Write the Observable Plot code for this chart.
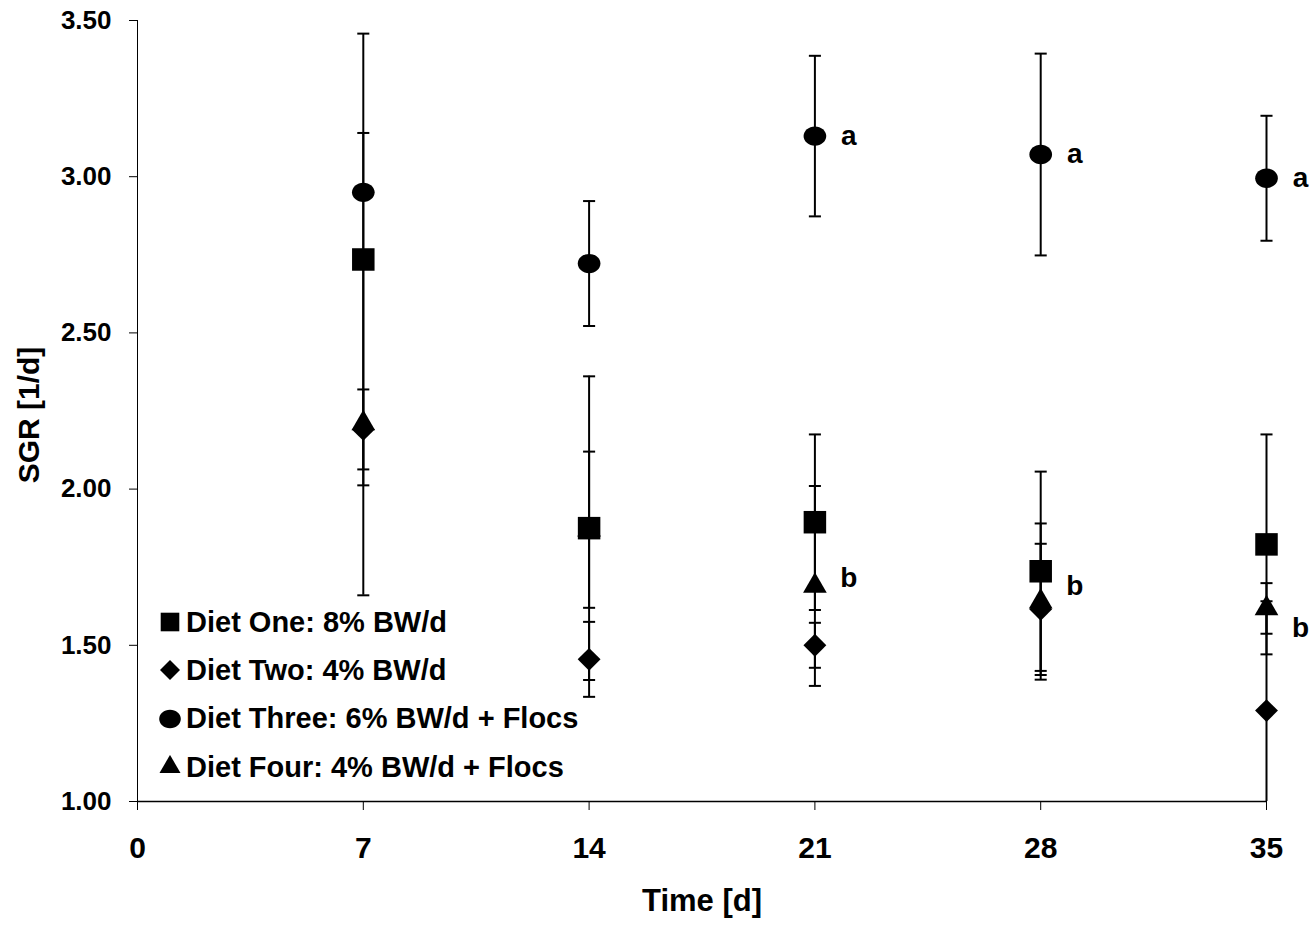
<!DOCTYPE html>
<html>
<head>
<meta charset="utf-8">
<script src="https://cdn.jsdelivr.net/npm/d3@7"></script>
<script src="https://cdn.jsdelivr.net/npm/@observablehq/plot@0.6"></script>
<style>
  html, body { margin: 0; padding: 0; background: white; }
  #wrap { position: relative; width: 1310px; height: 925px; font-family: "Liberation Sans", Arial, sans-serif; font-weight: bold; }
  #legend { position: absolute; left: 158px; top: 598px; }
  .row { display: flex; align-items: center; height: 48.3px; font-size: 29px; white-space: nowrap; }
  .row svg { width: 24px; height: 24px; margin-right: 4px; }
</style>
</head>
<body>
<div id="wrap"></div>
<script>
// ---- data ----
const days = [7, 14, 21, 28, 35];
const seriesNames = ["Diet One: 8% BW/d", "Diet Two: 4% BW/d", "Diet Three: 6% BW/d + Flocs", "Diet Four: 4% BW/d + Flocs"];
const dietOne = [2.735, 1.875, 1.894, 1.737, 1.823];
const dietOneErr = [0.723, 0.486, 0.281, 0.319, 0.352];
const dietTwo = [2.191, 1.455, 1.500, 1.615, 1.291];
const dietTwoErr = [0.128, 0.120, 0.072, 0.210, 0.350];
const dietThree = [2.950, 2.722, 3.130, 3.071, 2.995];
const dietThreeErr = [0.190, 0.200, 0.257, 0.323, 0.200];
const dietFour = [2.210, 1.870, 1.690, 1.640, 1.618];
const dietFourErr = [0.550, 0.250, 0.320, 0.250, 0.081];
const letterText = ["a", "a", "a", "b", "b", "b"];
const letterDay = [21, 28, 35, 21, 28, 35];
const letterValue = [3.130, 3.071, 2.995, 1.714, 1.691, 1.554];
const xTicks = [0, 7, 14, 21, 28, 35];
const yTicks = [1.0, 1.5, 2.0, 2.5, 3.0, 3.5];
const yMin = 1, yMax = 3.5;

// ---- symbols ----
const ellipse = {draw(ctx, size) {
  const r = Math.sqrt(size / Math.PI), rx = r * 1.08, ry = r * 0.92, k = 0.5523;
  ctx.moveTo(rx, 0);
  ctx.bezierCurveTo(rx, ry * k, rx * k, ry, 0, ry);
  ctx.bezierCurveTo(-rx * k, ry, -rx, ry * k, -rx, 0);
  ctx.bezierCurveTo(-rx, -ry * k, -rx * k, -ry, 0, -ry);
  ctx.bezierCurveTo(rx * k, -ry, rx, -ry * k, rx, 0);
  ctx.closePath();
}};
const cap = {draw(ctx, size) {
  const w = Math.sqrt(size);
  ctx.moveTo(-w / 2, 0); ctx.lineTo(w / 2, 0);
}};
const symbols = ["square", "diamond2", ellipse, "triangle"];
const radii = [12.7, 10.3, 10.5, 8.8];

const vals = [dietOne, dietTwo, dietThree, dietFour];
const errs = [dietOneErr, dietTwoErr, dietThreeErr, dietFourErr];
const rows = vals.flatMap((v, s) => days.map((d, i) => ({
  series: s, day: d, value: v[i], lo: v[i] - errs[s][i], hi: v[i] + errs[s][i]
})));
// error bars are cut at the axis range (as in the original chart)
const barRows = rows.map(r => ({day: r.day, lo: Math.max(yMin, r.lo), hi: Math.min(yMax, r.hi)}));
const capRows = rows.flatMap(r => [{day: r.day, y: r.lo}, {day: r.day, y: r.hi}])
  .filter(c => c.y >= yMin && c.y <= yMax);
const letters = letterText.map((t, i) => ({t, day: letterDay[i], value: letterValue[i]}));

const font = "'Liberation Sans', Arial, sans-serif";
const chart = Plot.plot({
  width: 1310, height: 925,
  marginLeft: 137, marginRight: 44, marginTop: 20, marginBottom: 124,
  style: {fontFamily: font, fontWeight: "bold", fontSize: "26px", color: "black", background: "white", overflow: "visible"},
  x: {domain: [0, 35]},
  y: {domain: [yMin, yMax]},
  marks: [
    Plot.axisX({ticks: xTicks, tickSize: 9, tickPadding: 26, label: null, fontSize: 30}),
    Plot.axisY({ticks: yTicks, tickSize: 8, tickPadding: 18, tickFormat: d => d.toFixed(2), label: null, fontSize: 26}),
    Plot.ruleX([0], {stroke: "black", strokeWidth: 1}),
    Plot.ruleY([yMin], {stroke: "black", strokeWidth: 1.3}),
    Plot.ruleX(barRows, {x: "day", y1: "lo", y2: "hi", stroke: "black", strokeWidth: 2}),
    Plot.dot(capRows, {x: "day", y: "y", symbol: cap, r: 6.8, fill: "none", stroke: "black", strokeWidth: 2}),
    ...vals.map((v, s) => Plot.dot(rows.filter(r => r.series === s), {
      x: "day", y: "value", symbol: symbols[s], r: radii[s], fill: "black", stroke: "none"
    })),
    Plot.text(letters, {x: "day", y: "value", text: "t", dx: 34, fontSize: 28, fontWeight: "bold", fill: "black"}),
    Plot.text(["Time [d]"], {frameAnchor: "bottom", lineAnchor: "middle", textAnchor: "middle", dy: 100, fontSize: 31, fontWeight: "bold", fill: "black"}),
    Plot.text(["SGR [1/d]"], {frameAnchor: "left", lineAnchor: "middle", textAnchor: "middle", dx: -108, dy: 4, rotate: -90, fontSize: 30, fontWeight: "bold", fill: "black"})
  ]
});
const wrap = document.getElementById("wrap");
wrap.appendChild(chart);

// ---- legend ----
const legend = document.createElement("div");
legend.id = "legend";
const legendR = [10.5, 9, 10, 7.8];
seriesNames.forEach((name, s) => {
  const row = document.createElement("div");
  row.className = "row";
  const sym = typeof symbols[s] === "string"
    ? {square: d3.symbolSquare, diamond2: d3.symbolDiamond2, triangle: d3.symbolTriangle}[symbols[s]]
    : symbols[s];
  const path = d3.symbol(sym, Math.PI * legendR[s] * legendR[s])();
  row.innerHTML = `<svg viewBox="-12 -12 24 24"><path d="${path}" fill="black"/></svg><span>${name}</span>`;
  legend.appendChild(row);
});
wrap.appendChild(legend);
</script>
</body>
</html>
